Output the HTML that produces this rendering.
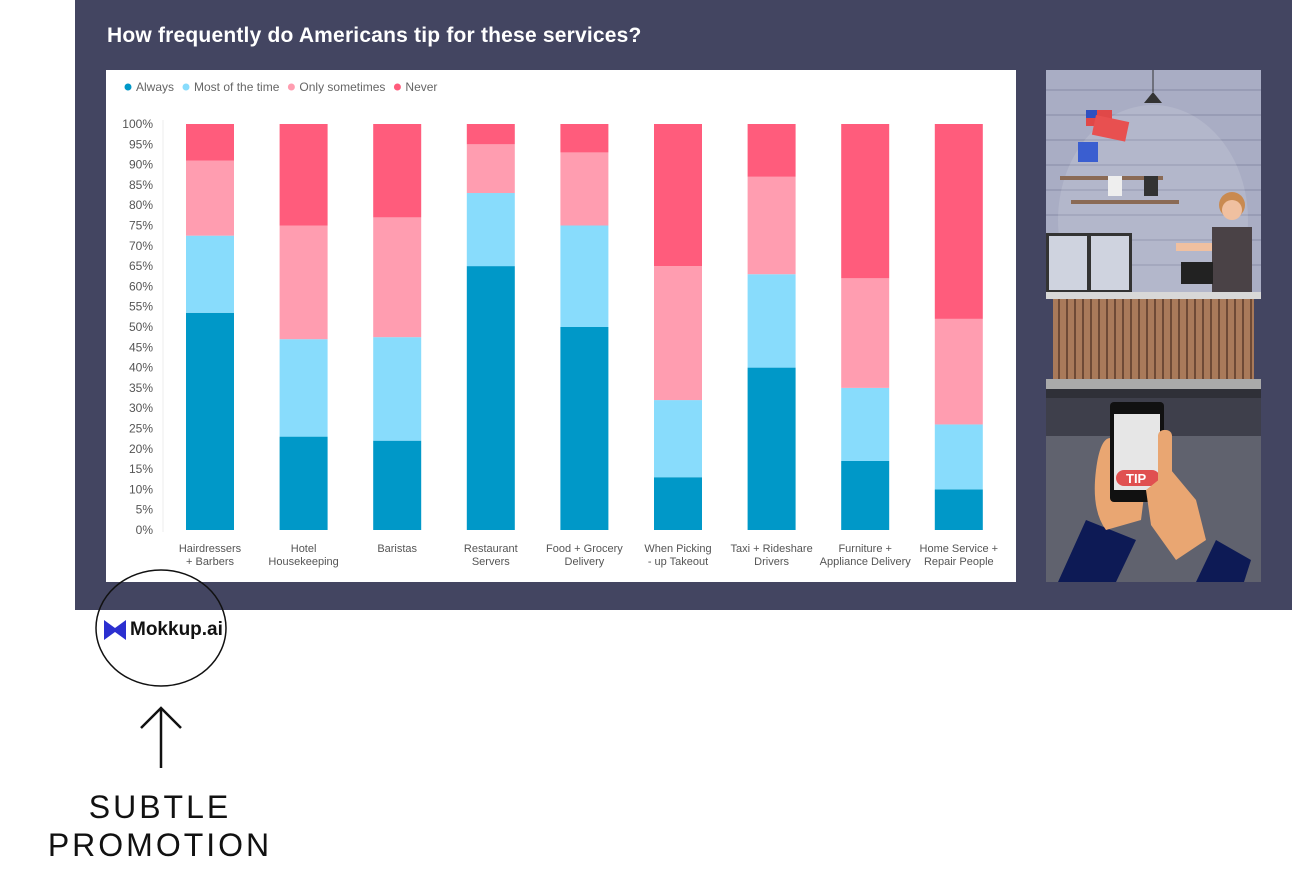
<!DOCTYPE html>
<html><head><meta charset="utf-8"><style>
body{margin:0;width:1292px;height:884px;background:#fff;position:relative;overflow:hidden;font-family:"Liberation Sans",sans-serif}
.abs{position:absolute}
</style></head><body>
<div class="abs" style="left:75px;top:0;width:1217px;height:610px;background:#434561"></div>
<div class="abs" style="left:107px;top:24px;color:#fff;font-size:21px;font-weight:bold;letter-spacing:0.2px">How frequently do Americans tip for these services?</div>
<svg class="abs" style="left:106px;top:70px" width="910" height="512" id="chart"></svg>

<svg class="abs" style="left:1046px;top:70px" width="215" height="512">
<rect width="215" height="222" fill="#a9adc4"/>
<g stroke="#9397b0" stroke-width="1.5">
<line x1="0" y1="20" x2="215" y2="20"/><line x1="0" y1="45" x2="215" y2="45"/><line x1="0" y1="70" x2="215" y2="70"/><line x1="0" y1="95" x2="215" y2="95"/><line x1="0" y1="120" x2="215" y2="120"/><line x1="0" y1="145" x2="215" y2="145"/><line x1="0" y1="170" x2="215" y2="170"/><line x1="0" y1="195" x2="215" y2="195"/></g>
<ellipse cx="107" cy="150" rx="95" ry="115" fill="#fff" opacity="0.12"/>
<line x1="107" y1="0" x2="107" y2="22" stroke="#333"/><path d="M98 33 L107 22 L116 33Z" fill="#333"/>
<rect x="40" y="40" width="26" height="16" fill="#e04848"/><rect x="40" y="40" width="11" height="8" fill="#3050c0"/>
<rect x="50" y="45" width="34" height="20" fill="#e85050" transform="rotate(12 50 45)"/>
<path d="M32 72 h20 v20 h-20z" fill="#3a5ed0"/>
<rect x="14" y="106" width="103" height="4" fill="#8a6a55"/><rect x="25" y="130" width="108" height="4" fill="#8a6a55"/>
<rect x="62" y="106" width="14" height="20" fill="#eee"/><rect x="98" y="106" width="14" height="20" fill="#333"/>
<rect x="0" y="163" width="86" height="60" fill="#333"/><rect x="3" y="166" width="38" height="54" fill="#cfd3df"/><rect x="45" y="166" width="38" height="54" fill="#cfd3df"/>
<circle cx="186" cy="135" r="13" fill="#c98a50"/><circle cx="186" cy="140" r="10" fill="#f0c0a0"/>
<rect x="166" y="157" width="40" height="66" fill="#4a4246"/><rect x="130" y="173" width="36" height="8" fill="#f0c0a0"/>
<rect x="135" y="192" width="32" height="22" fill="#222"/>
<rect x="0" y="222" width="215" height="7" fill="#d8d8d8"/>
<rect x="7" y="229" width="201" height="80" fill="#a97a5a"/>
<g id="slats"></g>
<rect x="0" y="309" width="215" height="10" fill="#aaa"/>
<rect x="0" y="319" width="215" height="9" fill="#2f3038"/>
<rect x="0" y="328" width="215" height="38" fill="#3e3f4b"/>
<rect x="0" y="366" width="215" height="146" fill="#60626e"/>
<path d="M12 512 L40 450 L90 470 L70 512Z" fill="#0d1a55"/>
<path d="M150 512 L170 470 L205 490 L198 512Z" fill="#0d1a55"/>
<path d="M50 400 Q55 360 70 370 L100 410 L95 450 L60 460 Q45 440 50 400Z" fill="#e9a672"/>
<rect x="64" y="332" width="54" height="100" rx="4" fill="#111"/>
<rect x="68" y="344" width="46" height="76" fill="#e6e6e6"/>
<rect x="70" y="400" width="44" height="16" rx="8" fill="#e05050"/>
<text x="80" y="413" font-family="Liberation Sans,sans-serif" font-size="13" font-weight="bold" fill="#fff">TIP</text>
<path d="M100 420 L125 400 L150 430 L160 470 L130 490 L105 455Z" fill="#e9a672"/>
<rect x="112" y="360" width="14" height="60" rx="6" fill="#e9a672"/>
</svg>

<div class="abs" style="left:104px;top:619px;display:flex;align-items:center;gap:4px">
<svg width="22" height="20"><path d="M0 0 L11 8 L22 0 V20 L11 12 L0 20Z" fill="#2b2fd0"/></svg>
<span style="font-size:19px;font-weight:bold;color:#111">Mokkup.ai</span></div>
<svg class="abs" style="left:0;top:560px" width="400" height="324">
<ellipse cx="161" cy="68" rx="65" ry="58" fill="none" stroke="#111" stroke-width="1.5"/>
<line x1="161" y1="148" x2="161" y2="208" stroke="#111" stroke-width="2.5"/>
<path d="M141 168 L161 148 L181 168" fill="none" stroke="#111" stroke-width="2.5"/>
</svg>
<div class="abs" style="left:0;width:320px;top:788px;text-align:center;font-size:32px;letter-spacing:3px;line-height:38px;color:#111">SUBTLE<br>PROMOTION</div>

<script>
const categories=[["Hairdressers","+ Barbers"],["Hotel","Housekeeping"],["Baristas",""],["Restaurant","Servers"],["Food + Grocery","Delivery"],["When Picking","- up Takeout"],["Taxi + Rideshare","Drivers"],["Furniture +","Appliance Delivery"],["Home Service +","Repair People"]];
const always=[53.5,23,22,65,50,13,40,17,10];
const mostOfTheTime=[19,24,25.5,18,25,19,23,18,16];
const onlySometimes=[18.5,28,29.5,12,18,33,24,27,26];
const never=[9,25,23,5,7,35,13,38,48];
const seriesNames=["Always","Most of the time","Only sometimes","Never"];
const colors=["#0098c8","#88dcfc","#ff9db0","#ff5c7c"];
const ticks=[0,5,10,15,20,25,30,35,40,45,50,55,60,65,70,75,80,85,90,95,100];
const NS="http://www.w3.org/2000/svg";
const svg=document.getElementById('chart');
function el(t,a,p){const e=document.createElementNS(NS,t);for(const k in a)e.setAttribute(k,a[k]);(p||svg).appendChild(e);return e;}
el('rect',{x:0,y:0,width:910,height:512,fill:'#fff'});
const y0=460,y100=54,x0=104,step=93.6,bw=48;
const yS=v=>y0-(y0-y100)*v/100;
const xS=i=>x0+step*i;
// legend
let lx=18;
seriesNames.forEach((n,i)=>{
 const c=el('circle',{cx:lx+4,cy:17,r:3.5,fill:colors[i]});
 
 
 const t=el('text',{x:lx+12,y:21,'font-size':12,fill:'#666'});t.textContent=n;
 
 
 lx+=12+t.getComputedTextLength()+8;
});
el('line',{x1:57,y1:50,x2:57,y2:462,stroke:'#eee'});
ticks.forEach(v=>{
 const t=el('text',{x:47,y:yS(v)+4,'font-size':12,fill:'#555','text-anchor':'end'});t.textContent=v+'%';
 
 
});
const series=[always,mostOfTheTime,onlySometimes,never];
categories.forEach((c,i)=>{
 let acc=0;
 series.forEach((s,k)=>{
  const r=el('rect',{x:xS(i)-bw/2,y:yS(acc+s[i]),width:bw,height:yS(acc)-yS(acc+s[i]),fill:colors[k]});
  
  
  acc+=s[i];
 });
 c.forEach((line,j)=>{
  const t=el('text',{x:xS(i),y:482+j*13,'font-size':11,fill:'#555','text-anchor':'middle'});t.textContent=line;
  
  
 });
});
const sl=document.getElementById('slats');
for(let x=12;x<205;x+=8){const r=document.createElementNS(NS,'rect');r.setAttribute('x',x);r.setAttribute('y',229);r.setAttribute('width',2);r.setAttribute('height',80);r.setAttribute('fill','#6e4a36');sl.appendChild(r);}
</script>
</body></html>
